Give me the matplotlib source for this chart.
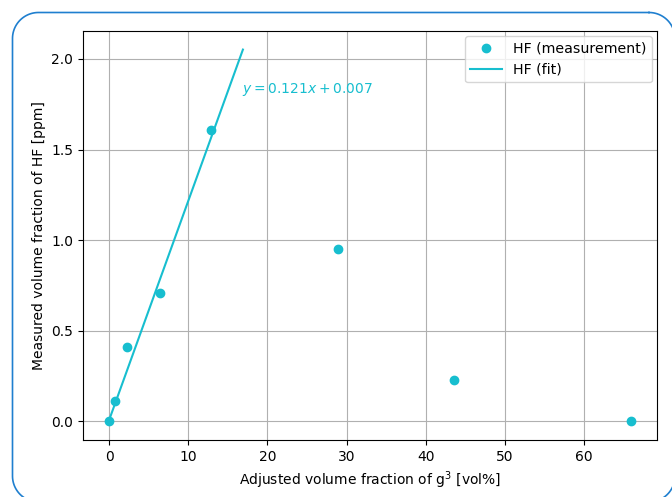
import matplotlib
matplotlib.use("Agg")
import matplotlib.pyplot as plt
import numpy as np
from matplotlib.lines import Line2D

x_meas = [0.0, 0.8, 2.3, 6.4, 12.9, 28.9, 43.5, 65.9]
y_meas = [0.0, 0.11, 0.41, 0.71, 1.61, 0.95, 0.23, 0.0]
slope = 0.121
intercept = 0.007
fit_x = [0.0, 16.9]

W, H = 672, 497
fig = plt.figure(figsize=(W/100, H/100), dpi=100)
ax = fig.add_axes([83/W, 1-440/H, (657-83)/W, (440-31)/H])
color = "#17becf"
ax.plot(x_meas, y_meas, "o", color=color, label="HF (measurement)", zorder=3)
fx = np.array(fit_x)
ax.plot(fx, slope*fx + intercept, "-", color=color, label="HF (fit)", zorder=3)
ax.text(16.8, 1.83, r"$y = 0.121x + 0.007$", color=color, fontsize=10, va="center")
ax.grid(True)
ax.set_xlabel(r"Adjusted volume fraction of g$^3$ [vol%]")
ax.set_ylabel("Measured volume fraction of HF [ppm]")
ax.set_xticks([0, 10, 20, 30, 40, 50, 60])
ax.set_yticks([0.0, 0.5, 1.0, 1.5, 2.0])
ax.legend(loc="upper right", fontsize=10.2, handlelength=2.2, borderaxespad=0.35)

# rounded frame as a polyline in pixel coordinates (display: origin bottom-left)
x0, x1 = 12.5, 675
y_top, y_bot = H - 12.5, H - 502
r = 26
def arc(cx, cy, a0, a1):
    t = np.linspace(np.radians(a0), np.radians(a1), 30)
    return list(zip(cx + r*np.cos(t), cy + r*np.sin(t)))
pts = []
pts += arc(x1 - r, y_top - r, 90, 0)
pts += arc(x1 - r, y_bot + r, 0, -90)
pts += arc(x0 + r, y_bot + r, -90, -180)
pts += arc(x0 + r, y_top - r, 180, 90)
pts.append(pts[0])
px, py = zip(*pts)
frame = Line2D(px, py, transform=None, color="#1f7fcf", linewidth=1.2,
               clip_on=False, solid_joinstyle="round")
fig.lines.append(frame)
fig.savefig("out.png", dpi=100)
